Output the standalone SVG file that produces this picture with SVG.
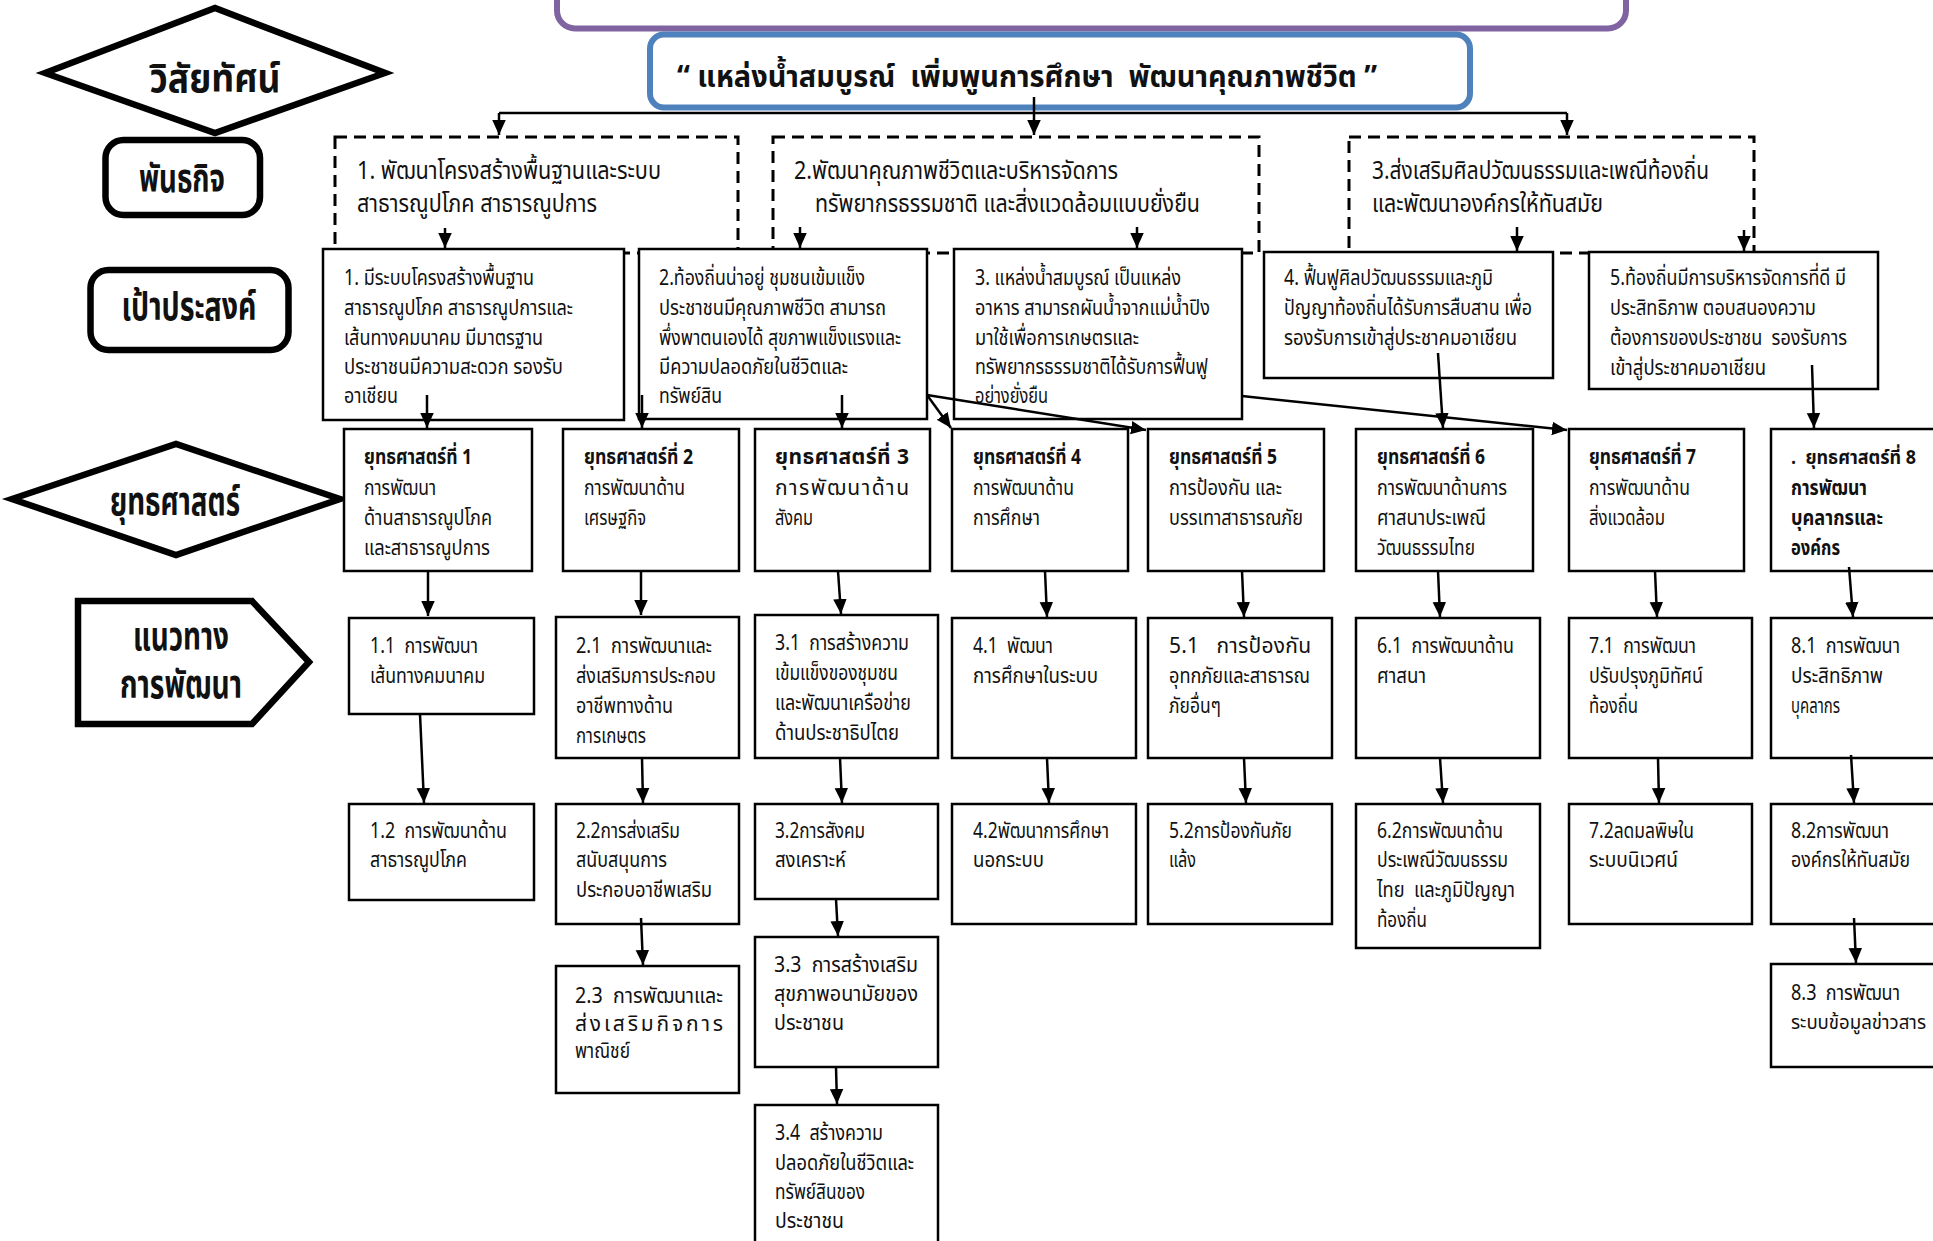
<svg xmlns="http://www.w3.org/2000/svg" width="1933" height="1241" viewBox="0 0 1933 1241">
<defs>
<style>
text{font-family:"Noto Sans Thai","Noto Sans","DejaVu Sans",sans-serif;fill:#111;white-space:pre}
.lbl{font-size:39px;font-weight:bold;text-anchor:middle}
.ms{font-size:25px}
.g{font-size:22px}
.t{font-size:21px}
.sm{font-size:19px}
.b{font-weight:bold}
.vis{font-size:30px;font-weight:bold}
.box{fill:#fff;stroke:#000;stroke-width:2.5}
.dash{fill:none;stroke:#000;stroke-width:3;stroke-dasharray:12 7}
.shape{fill:#fff;stroke:#000;stroke-width:6.5;stroke-linejoin:miter}
.conn path{fill:none;stroke:#000;stroke-width:2.5}
.arr{marker-end:url(#ah)}
</style>
<marker id="ah" viewBox="0 0 10 10" refX="10" refY="5" markerWidth="15" markerHeight="15" markerUnits="userSpaceOnUse" orient="auto"><path d="M0,0.5 L10,5 L0,9.5 z" fill="#000"/></marker>
</defs>
<rect width="1933" height="1241" fill="#fff"/>

<!-- header boxes -->
<g id="title"><rect x="557" y="-30" width="1069" height="58.5" rx="18" fill="#fff" stroke="#8064a2" stroke-width="6"/></g>
<g id="vision"><rect x="650" y="34.5" width="820" height="73" rx="14" fill="#fff" stroke="#4f81bd" stroke-width="6"/>
<text class="vis" x="677" y="87" textLength="700" lengthAdjust="spacingAndGlyphs">“ แหล่งน้ำสมบูรณ์  เพิ่มพูนการศึกษา  พัฒนาคุณภาพชีวิต ”</text></g>

<!-- left labels -->
<g id="lbl-vision"><polygon class="shape" points="45,73 215,8 385,73 215,133"/><text class="lbl" x="215" y="92" textLength="131" lengthAdjust="spacingAndGlyphs">วิสัยทัศน์</text></g>
<g id="lbl-mission"><rect class="shape" x="105.5" y="140" width="154.5" height="75" rx="18"/><text class="lbl" x="182" y="192" textLength="86" lengthAdjust="spacingAndGlyphs">พันธกิจ</text></g>
<g id="lbl-goal"><rect class="shape" x="90.5" y="270" width="198" height="80" rx="18"/><text class="lbl" x="189" y="320" textLength="135" lengthAdjust="spacingAndGlyphs">เป้าประสงค์</text></g>
<g id="lbl-strategy"><polygon class="shape" points="12,499 176,444 340,499 176,555"/><text class="lbl" x="175" y="515" textLength="130" lengthAdjust="spacingAndGlyphs">ยุทธศาสตร์</text></g>
<g id="lbl-guide"><polygon class="shape" points="78,601 252,601 309,662 252,724 78,724"/><text class="lbl" x="181" y="650" textLength="96" lengthAdjust="spacingAndGlyphs">แนวทาง</text><text class="lbl" x="181" y="698" textLength="122" lengthAdjust="spacingAndGlyphs">การพัฒนา</text></g>

<!-- missions -->
<g id="mission1"><rect class="dash" x="335" y="137" width="403" height="116"/>
<text class="ms" x="357" y="179" textLength="304" lengthAdjust="spacingAndGlyphs">1. พัฒนาโครงสร้างพื้นฐานและระบบ</text>
<text class="ms" x="357" y="212" textLength="240" lengthAdjust="spacingAndGlyphs">สาธารณูปโภค สาธารณูปการ</text></g>
<g id="mission2"><rect class="dash" x="773" y="137" width="486" height="116"/>
<text class="ms" x="794" y="179" textLength="324" lengthAdjust="spacingAndGlyphs">2.พัฒนาคุณภาพชีวิตและบริหารจัดการ</text>
<text class="ms" x="815" y="212" textLength="385" lengthAdjust="spacingAndGlyphs">ทรัพยากรธรรมชาติ และสิ่งแวดล้อมแบบยั่งยืน</text></g>
<g id="mission3"><rect class="dash" x="1349" y="137" width="405" height="116"/>
<text class="ms" x="1372" y="179" textLength="337" lengthAdjust="spacingAndGlyphs">3.ส่งเสริมศิลปวัฒนธรรมและเพณีท้องถิ่น</text>
<text class="ms" x="1372" y="212" textLength="231" lengthAdjust="spacingAndGlyphs">และพัฒนาองค์กรให้ทันสมัย</text></g>

<!-- goals -->
<g id="goal1"><rect class="box" x="323" y="249" width="301" height="171"/>
<text class="g" x="344" y="285" textLength="190" lengthAdjust="spacingAndGlyphs">1. มีระบบโครงสร้างพื้นฐาน</text>
<text class="g" x="344" y="315" textLength="229" lengthAdjust="spacingAndGlyphs">สาธารณูปโภค สาธารณูปการและ</text>
<text class="g" x="344" y="345" textLength="199" lengthAdjust="spacingAndGlyphs">เส้นทางคมนาคม มีมาตรฐาน</text>
<text class="g" x="344" y="374" textLength="219" lengthAdjust="spacingAndGlyphs">ประชาชนมีความสะดวก รองรับ</text>
<text class="g" x="344" y="403" textLength="54" lengthAdjust="spacingAndGlyphs">อาเชียน</text></g>
<g id="goal2"><rect class="box" x="639" y="249" width="288" height="170"/>
<text class="g" x="659" y="285" textLength="206" lengthAdjust="spacingAndGlyphs">2.ท้องถิ่นน่าอยู่ ชุมชนเข้มแข็ง</text>
<text class="g" x="659" y="315" textLength="227" lengthAdjust="spacingAndGlyphs">ประชาชนมีคุณภาพชีวิต สามารถ</text>
<text class="g" x="659" y="345" textLength="242" lengthAdjust="spacingAndGlyphs">พึ่งพาตนเองได้ สุขภาพแข็งแรงและ</text>
<text class="g" x="659" y="374" textLength="189" lengthAdjust="spacingAndGlyphs">มีความปลอดภัยในชีวิตและ</text>
<text class="g" x="659" y="403" textLength="63" lengthAdjust="spacingAndGlyphs">ทรัพย์สิน</text></g>
<g id="goal3"><rect class="box" x="954" y="249" width="288" height="170"/>
<text class="g" x="975" y="285" textLength="206" lengthAdjust="spacingAndGlyphs">3. แหล่งน้ำสมบูรณ์ เป็นแหล่ง</text>
<text class="g" x="975" y="315" textLength="235" lengthAdjust="spacingAndGlyphs">อาหาร สามารถผันน้ำจากแม่น้ำปิง</text>
<text class="g" x="975" y="345" textLength="164" lengthAdjust="spacingAndGlyphs">มาใช้เพื่อการเกษตรและ</text>
<text class="g" x="975" y="374" textLength="233" lengthAdjust="spacingAndGlyphs">ทรัพยากรธรรมชาติได้รับการฟื้นฟู</text>
<text class="g" x="975" y="403" textLength="73" lengthAdjust="spacingAndGlyphs">อย่างยั่งยืน</text></g>
<g id="goal4"><rect class="box" x="1264" y="252" width="289" height="126"/>
<text class="g" x="1284" y="285" textLength="209" lengthAdjust="spacingAndGlyphs">4. ฟื้นฟูศิลปวัฒนธรรมและภูมิ</text>
<text class="g" x="1284" y="315" textLength="248" lengthAdjust="spacingAndGlyphs">ปัญญาท้องถิ่นได้รับการสืบสาน เพื่อ</text>
<text class="g" x="1284" y="345" textLength="233" lengthAdjust="spacingAndGlyphs">รองรับการเข้าสู่ประชาคมอาเชียน</text></g>
<g id="goal5"><rect class="box" x="1589" y="252" width="289" height="137"/>
<text class="g" x="1610" y="285" textLength="236" lengthAdjust="spacingAndGlyphs">5.ท้องถิ่นมีการบริหารจัดการที่ดี มี</text>
<text class="g" x="1610" y="315" textLength="206" lengthAdjust="spacingAndGlyphs">ประสิทธิภาพ ตอบสนองความ</text>
<text class="g" x="1610" y="345" textLength="237" lengthAdjust="spacingAndGlyphs">ต้องการของประชาชน  รองรับการ</text>
<text class="g" x="1610" y="375" textLength="156" lengthAdjust="spacingAndGlyphs">เข้าสู่ประชาคมอาเชียน</text></g>

<!-- strategies -->
<g id="s1"><rect class="box" x="344" y="429" width="188" height="142"/>
<text class="t b" x="364" y="464" textLength="108" lengthAdjust="spacingAndGlyphs">ยุทธศาสตร์ที่ 1</text>
<text class="t" x="364" y="495" textLength="72" lengthAdjust="spacingAndGlyphs">การพัฒนา</text>
<text class="t" x="364" y="525" textLength="128" lengthAdjust="spacingAndGlyphs">ด้านสาธารณูปโภค</text>
<text class="t" x="364" y="555" textLength="126" lengthAdjust="spacingAndGlyphs">และสาธารณูปการ</text></g>
<g id="s2"><rect class="box" x="563" y="429" width="176" height="142"/>
<text class="t b" x="584" y="464" textLength="109" lengthAdjust="spacingAndGlyphs">ยุทธศาสตร์ที่ 2</text>
<text class="t" x="584" y="495" textLength="101" lengthAdjust="spacingAndGlyphs">การพัฒนาด้าน</text>
<text class="t" x="584" y="525" textLength="62" lengthAdjust="spacingAndGlyphs">เศรษฐกิจ</text></g>
<g id="s3"><rect class="box" x="755" y="429" width="175" height="142"/>
<text class="t b" x="775" y="464" textLength="134" lengthAdjust="spacing">ยุทธศาสตร์ที่ 3</text>
<text class="t" x="775" y="495" textLength="134" lengthAdjust="spacing">การพัฒนาด้าน</text>
<text class="t" x="775" y="525" textLength="38" lengthAdjust="spacingAndGlyphs">สังคม</text></g>
<g id="s4"><rect class="box" x="952" y="429" width="176" height="142"/>
<text class="t b" x="973" y="464" textLength="108" lengthAdjust="spacingAndGlyphs">ยุทธศาสตร์ที่ 4</text>
<text class="t" x="973" y="495" textLength="101" lengthAdjust="spacingAndGlyphs">การพัฒนาด้าน</text>
<text class="t" x="973" y="525" textLength="67" lengthAdjust="spacingAndGlyphs">การศึกษา</text></g>
<g id="s5"><rect class="box" x="1148" y="429" width="176" height="142"/>
<text class="t b" x="1169" y="464" textLength="108" lengthAdjust="spacingAndGlyphs">ยุทธศาสตร์ที่ 5</text>
<text class="t" x="1169" y="495" textLength="113" lengthAdjust="spacingAndGlyphs">การป้องกัน และ</text>
<text class="t" x="1169" y="525" textLength="134" lengthAdjust="spacingAndGlyphs">บรรเทาสาธารณภัย</text></g>
<g id="s6"><rect class="box" x="1356" y="429" width="177" height="142"/>
<text class="t b" x="1377" y="464" textLength="108" lengthAdjust="spacingAndGlyphs">ยุทธศาสตร์ที่ 6</text>
<text class="t" x="1377" y="495" textLength="130" lengthAdjust="spacingAndGlyphs">การพัฒนาด้านการ</text>
<text class="t" x="1377" y="525" textLength="109" lengthAdjust="spacingAndGlyphs">ศาสนาประเพณี</text>
<text class="t" x="1377" y="555" textLength="98" lengthAdjust="spacingAndGlyphs">วัฒนธรรมไทย</text></g>
<g id="s7"><rect class="box" x="1569" y="429" width="175" height="142"/>
<text class="t b" x="1589" y="464" textLength="107" lengthAdjust="spacingAndGlyphs">ยุทธศาสตร์ที่ 7</text>
<text class="t" x="1589" y="495" textLength="101" lengthAdjust="spacingAndGlyphs">การพัฒนาด้าน</text>
<text class="t" x="1589" y="525" textLength="76" lengthAdjust="spacingAndGlyphs">สิ่งแวดล้อม</text></g>
<g id="s8"><rect class="box" x="1771" y="429" width="176" height="142"/>
<text class="sm b" x="1791" y="464" textLength="125" lengthAdjust="spacingAndGlyphs">.  ยุทธศาสตร์ที่ 8</text>
<text class="t b" x="1791" y="495" textLength="76" lengthAdjust="spacingAndGlyphs">การพัฒนา</text>
<text class="t b" x="1791" y="525" textLength="92" lengthAdjust="spacingAndGlyphs">บุคลากรและ</text>
<text class="t b" x="1791" y="555" textLength="49" lengthAdjust="spacingAndGlyphs">องค์กร</text></g>

<!-- guidelines row 1 -->
<g id="g1-1"><rect class="box" x="349" y="618" width="185" height="96"/>
<text class="t" x="370" y="653" textLength="108" lengthAdjust="spacingAndGlyphs">1.1  การพัฒนา</text>
<text class="t" x="370" y="683" textLength="115" lengthAdjust="spacingAndGlyphs">เส้นทางคมนาคม</text></g>
<g id="g2-1"><rect class="box" x="556" y="617" width="183" height="141"/>
<text class="t" x="576" y="653" textLength="136" lengthAdjust="spacingAndGlyphs">2.1  การพัฒนาและ</text>
<text class="t" x="576" y="683" textLength="140" lengthAdjust="spacingAndGlyphs">ส่งเสริมการประกอบ</text>
<text class="t" x="576" y="713" textLength="97" lengthAdjust="spacingAndGlyphs">อาชีพทางด้าน</text>
<text class="t" x="576" y="743" textLength="70" lengthAdjust="spacingAndGlyphs">การเกษตร</text></g>
<g id="g3-1"><rect class="box" x="755" y="615" width="183" height="143"/>
<text class="t" x="775" y="650" textLength="134" lengthAdjust="spacingAndGlyphs">3.1  การสร้างความ</text>
<text class="t" x="775" y="680" textLength="123" lengthAdjust="spacingAndGlyphs">เข้มแข็งของชุมชน</text>
<text class="t" x="775" y="710" textLength="136" lengthAdjust="spacingAndGlyphs">และพัฒนาเครือข่าย</text>
<text class="t" x="775" y="740" textLength="124" lengthAdjust="spacingAndGlyphs">ด้านประชาธิปไตย</text></g>
<g id="g4-1"><rect class="box" x="952" y="618" width="184" height="140"/>
<text class="t" x="973" y="653" textLength="80" lengthAdjust="spacingAndGlyphs">4.1  พัฒนา</text>
<text class="t" x="973" y="683" textLength="125" lengthAdjust="spacingAndGlyphs">การศึกษาในระบบ</text></g>
<g id="g5-1"><rect class="box" x="1148" y="618" width="184" height="140"/>
<text class="t" x="1169" y="653" textLength="142" lengthAdjust="spacing">5.1   การป้องกัน</text>
<text class="t" x="1169" y="683" textLength="141" lengthAdjust="spacingAndGlyphs">อุทกภัยและสาธารณ</text>
<text class="t" x="1169" y="713" textLength="52" lengthAdjust="spacingAndGlyphs">ภัยอื่นๆ</text></g>
<g id="g6-1"><rect class="box" x="1356" y="618" width="184" height="140"/>
<text class="t" x="1377" y="653" textLength="137" lengthAdjust="spacingAndGlyphs">6.1  การพัฒนาด้าน</text>
<text class="t" x="1377" y="683" textLength="49" lengthAdjust="spacingAndGlyphs">ศาสนา</text></g>
<g id="g7-1"><rect class="box" x="1569" y="618" width="183" height="140"/>
<text class="t" x="1589" y="653" textLength="107" lengthAdjust="spacingAndGlyphs">7.1  การพัฒนา</text>
<text class="t" x="1589" y="683" textLength="114" lengthAdjust="spacingAndGlyphs">ปรับปรุงภูมิทัศน์</text>
<text class="t" x="1589" y="713" textLength="49" lengthAdjust="spacingAndGlyphs">ท้องถิ่น</text></g>
<g id="g8-1"><rect class="box" x="1771" y="618" width="176" height="140"/>
<text class="t" x="1791" y="653" textLength="109" lengthAdjust="spacingAndGlyphs">8.1  การพัฒนา</text>
<text class="t" x="1791" y="683" textLength="92" lengthAdjust="spacingAndGlyphs">ประสิทธิภาพ</text>
<text class="t" x="1791" y="713" textLength="49" lengthAdjust="spacingAndGlyphs">บุคลากร</text></g>

<!-- guidelines row 2 -->
<g id="g1-2"><rect class="box" x="349" y="804" width="185" height="96"/>
<text class="t" x="370" y="838" textLength="137" lengthAdjust="spacingAndGlyphs">1.2  การพัฒนาด้าน</text>
<text class="t" x="370" y="867" textLength="97" lengthAdjust="spacingAndGlyphs">สาธารณูปโภค</text></g>
<g id="g2-2"><rect class="box" x="556" y="804" width="183" height="120"/>
<text class="t" x="576" y="838" textLength="104" lengthAdjust="spacingAndGlyphs">2.2การส่งเสริม</text>
<text class="t" x="576" y="867" textLength="91" lengthAdjust="spacingAndGlyphs">สนับสนุนการ</text>
<text class="t" x="576" y="897" textLength="136" lengthAdjust="spacingAndGlyphs">ประกอบอาชีพเสริม</text></g>
<g id="g3-2"><rect class="box" x="755" y="804" width="183" height="95"/>
<text class="t" x="775" y="838" textLength="90" lengthAdjust="spacingAndGlyphs">3.2การสังคม</text>
<text class="t" x="775" y="867" textLength="71" lengthAdjust="spacingAndGlyphs">สงเคราะห์</text></g>
<g id="g4-2"><rect class="box" x="952" y="804" width="184" height="120"/>
<text class="t" x="973" y="838" textLength="136" lengthAdjust="spacingAndGlyphs">4.2พัฒนาการศึกษา</text>
<text class="t" x="973" y="867" textLength="71" lengthAdjust="spacingAndGlyphs">นอกระบบ</text></g>
<g id="g5-2"><rect class="box" x="1148" y="804" width="184" height="120"/>
<text class="t" x="1169" y="838" textLength="123" lengthAdjust="spacingAndGlyphs">5.2การป้องกันภัย</text>
<text class="t" x="1169" y="867" textLength="27" lengthAdjust="spacingAndGlyphs">แล้ง</text></g>
<g id="g6-2"><rect class="box" x="1356" y="804" width="184" height="144"/>
<text class="t" x="1377" y="838" textLength="126" lengthAdjust="spacingAndGlyphs">6.2การพัฒนาด้าน</text>
<text class="t" x="1377" y="867" textLength="131" lengthAdjust="spacingAndGlyphs">ประเพณีวัฒนธรรม</text>
<text class="t" x="1377" y="897" textLength="138" lengthAdjust="spacingAndGlyphs">ไทย  และภูมิปัญญา</text>
<text class="t" x="1377" y="927" textLength="50" lengthAdjust="spacingAndGlyphs">ท้องถิ่น</text></g>
<g id="g7-2"><rect class="box" x="1569" y="804" width="183" height="120"/>
<text class="t" x="1589" y="838" textLength="105" lengthAdjust="spacingAndGlyphs">7.2ลดมลพิษใน</text>
<text class="t" x="1589" y="867" textLength="89" lengthAdjust="spacingAndGlyphs">ระบบนิเวศน์</text></g>
<g id="g8-2"><rect class="box" x="1771" y="804" width="176" height="120"/>
<text class="t" x="1791" y="838" textLength="98" lengthAdjust="spacingAndGlyphs">8.2การพัฒนา</text>
<text class="t" x="1791" y="867" textLength="119" lengthAdjust="spacingAndGlyphs">องค์กรให้ทันสมัย</text></g>

<!-- guidelines row 3/4 -->
<g id="g2-3"><rect class="box" x="556" y="966" width="183" height="127"/>
<text class="t" x="575" y="1003" textLength="148" lengthAdjust="spacingAndGlyphs">2.3  การพัฒนาและ</text>
<text class="t" x="575" y="1031" textLength="148" lengthAdjust="spacing">ส่งเสริมกิจการ</text>
<text class="t" x="575" y="1058" textLength="55" lengthAdjust="spacingAndGlyphs">พาณิชย์</text></g>
<g id="g3-3"><rect class="box" x="755" y="937" width="183" height="130"/>
<text class="t" x="774" y="972" textLength="144" lengthAdjust="spacingAndGlyphs">3.3  การสร้างเสริม</text>
<text class="t" x="774" y="1001" textLength="144" lengthAdjust="spacingAndGlyphs">สุขภาพอนามัยของ</text>
<text class="t" x="774" y="1030" textLength="70" lengthAdjust="spacingAndGlyphs">ประชาชน</text></g>
<g id="g3-4"><rect class="box" x="755" y="1105" width="183" height="160"/>
<text class="t" x="775" y="1140" textLength="108" lengthAdjust="spacingAndGlyphs">3.4  สร้างความ</text>
<text class="t" x="775" y="1170" textLength="139" lengthAdjust="spacingAndGlyphs">ปลอดภัยในชีวิตและ</text>
<text class="t" x="775" y="1199" textLength="90" lengthAdjust="spacingAndGlyphs">ทรัพย์สินของ</text>
<text class="t" x="775" y="1228" textLength="69" lengthAdjust="spacingAndGlyphs">ประชาชน</text></g>
<g id="g8-3"><rect class="box" x="1771" y="964" width="176" height="103"/>
<text class="t" x="1791" y="1000" textLength="109" lengthAdjust="spacingAndGlyphs">8.3  การพัฒนา</text>
<text class="sm" x="1791" y="1029" textLength="135" lengthAdjust="spacingAndGlyphs">ระบบข้อมูลข่าวสาร</text></g>

<!-- connectors -->
<g id="connectors" class="conn">
<path d="M499,113 H1567"/>
<path class="arr" d="M499,113 V135"/>
<path class="arr" d="M1567,113 V135"/>
<path class="arr" d="M1034,97 V135"/>
<path class="arr" d="M445,228 V248"/>
<path class="arr" d="M800,227 V248"/>
<path class="arr" d="M1137,227 V248"/>
<path class="arr" d="M1517,227 V251"/>
<path class="arr" d="M1744,230 V251"/>
<path class="arr" d="M427,395 V428"/>
<path class="arr" d="M642,395 V428"/>
<path class="arr" d="M842,395 V428"/>
<path class="arr" d="M927,395 L951,428"/>
<path class="arr" d="M927,395 L1146,430"/>
<path class="arr" d="M1242,396 L1567,430"/>
<path class="arr" d="M1438,353 L1443,428"/>
<path class="arr" d="M1812,365 L1814,428"/>
<path class="arr" d="M428,571 V616"/>
<path class="arr" d="M641,571 V615"/>
<path class="arr" d="M838,571 L841,614"/>
<path class="arr" d="M1045,571 L1047,617"/>
<path class="arr" d="M1242,571 L1244,617"/>
<path class="arr" d="M1438,571 L1440,617"/>
<path class="arr" d="M1655,571 L1657,617"/>
<path class="arr" d="M1849,567 L1853,617"/>
<path class="arr" d="M420,714 L424,803"/>
<path class="arr" d="M642,758 L643,803"/>
<path class="arr" d="M840,758 L842,803"/>
<path class="arr" d="M1047,758 L1049,803"/>
<path class="arr" d="M1244,758 L1246,803"/>
<path class="arr" d="M1440,758 L1443,803"/>
<path class="arr" d="M1658,758 L1659,803"/>
<path class="arr" d="M1851,755 L1854,803"/>
<path class="arr" d="M641,918 L643,965"/>
<path class="arr" d="M836,899 L838,936"/>
<path class="arr" d="M836,1067 L837,1104"/>
<path class="arr" d="M1854,918 L1856,963"/>
</g>
</svg>
